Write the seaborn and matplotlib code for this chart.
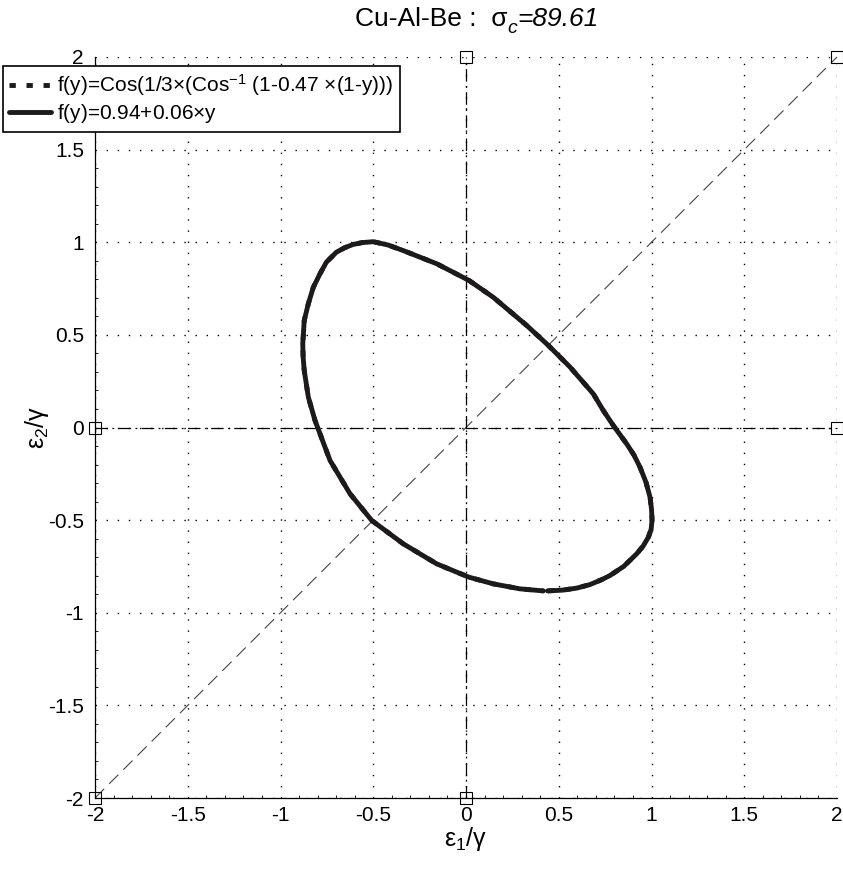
"""
Cu-Al-Be yield locus in strain space (eps1/gamma vs eps2/gamma)
"""

import matplotlib
matplotlib.use("Agg")
import matplotlib.pyplot as plt
from matplotlib.ticker import MultipleLocator
import seaborn as sns
import pandas as pd

# ── data ─────────────────────────────────────────────────────────────────────
# closed curve, starts just right of the small gap near (0.43, -0.88)
curve_x = [0.44, 0.52, 0.597, 0.668, 0.730, 0.776, 0.85, 0.920, 0.955, 0.983,
           0.998, 1.003, 1.000, 0.992, 0.970, 0.938, 0.905, 0.866, 0.794,
           0.740, 0.686, 0.561, 0.444, 0.327, 0.147, 0.016, -0.158, -0.338,
           -0.42, -0.50, -0.56, -0.609, -0.655, -0.699, -0.753, -0.787,
           -0.823, -0.850, -0.872, -0.880, -0.878, -0.872, -0.850, -0.814,
           -0.733, -0.625, -0.508, -0.338, -0.158, 0.016, 0.147, 0.291, 0.417]
curve_y = [-0.882, -0.878, -0.867, -0.848, -0.822, -0.799, -0.75, -0.682,
           -0.64, -0.592, -0.55, -0.50, -0.44, -0.376, -0.295, -0.214, -0.148,
           -0.088, 0.011, 0.092, 0.182, 0.326, 0.443, 0.551, 0.703, 0.794,
           0.884, 0.955, 0.985, 1.003, 0.998, 0.988, 0.970, 0.946, 0.892,
           0.830, 0.757, 0.668, 0.578, 0.452, 0.38, 0.308, 0.164, 0.038,
           -0.178, -0.358, -0.502, -0.628, -0.736, -0.808, -0.844, -0.871,
           -0.882]

label_cos = r"f(y)=Cos(1/3$\times$(Cos$^{-1}$ (1-0.47 $\times$(1-y)))"
label_lin = r"f(y)=0.94+0.06$\times$y"

title_parts = ["Cu-Al-Be :  σ", "c", "=89.61"]
xlabel_txt = r"ε$_{\mathit{1}}$/γ"
ylabel_txt = r"ε$_{\mathit{2}}$/γ"

tick_vals = [-2, -1.5, -1, -0.5, 0, 0.5, 1, 1.5, 2]
tick_labels = ["-2", "-1.5", "-1", "-0.5", "0", "0.5", "1", "1.5", "2"]

diag_x = [-2, 2]
diag_y = [-2, 2]
vert_x = [0, 0]
vert_y = [-2, 2]
horz_x = [-2, 2]
horz_y = [0, 0]

sns.set_theme(style="white")
plt.rcParams.update({
    "font.family": ["Liberation Sans", "DejaVu Sans"],
    "mathtext.fontset": "custom",
    "mathtext.rm": "Liberation Sans",
    "mathtext.it": "Liberation Sans:italic",
    "mathtext.default": "regular",
    "axes.unicode_minus": False,
    "text.color": "black",
    "axes.labelcolor": "black",
    "xtick.color": "black",
    "ytick.color": "black",
})

W, H = 843, 869
df = pd.DataFrame({"x": curve_x, "y": curve_y})

fig = plt.figure(figsize=(W / 100, H / 100), dpi=100)
ax = fig.add_axes([95 / W, 1 - 798 / H, 742 / W, 741 / H])

# grid (dotted, MATLAB style)
for v in tick_vals:
    ax.axvline(v, color="black", lw=1.0, ls=(0, (1, 7)), zorder=0)
    ax.axhline(v, color="black", lw=1.0, ls=(0, (1, 7)), zorder=0)

# reference lines
ax.plot(diag_x, diag_y, color="#444444", lw=0.8, ls=(0, (11.7, 6.3)),
        marker="s", ms=9, mfc="none", mec="black", mew=0.8, clip_on=False)
ax.plot(vert_x, vert_y, color="black", lw=0.9, ls=(0, (10, 3.5, 1.5, 3.5)),
        marker="s", ms=9, mfc="none", mec="black", mew=0.8, clip_on=False)
ax.plot(horz_x, horz_y, color="black", lw=0.9, ls=(0, (10, 3.5, 1.5, 3.5)),
        marker="s", ms=9, mfc="none", mec="black", mew=0.8, clip_on=False)

# the two yield functions (they coincide at this scale)
sns.lineplot(data=df, x="x", y="y", sort=False, estimator=None, ax=ax,
             color="#1c1a1a", lw=3.5, ls=(0, (1.3, 2.2)), label=label_cos)
sns.lineplot(data=df, x="x", y="y", sort=False, estimator=None, ax=ax,
             color="#1c1a1a", lw=3.5, label=label_lin,
             solid_joinstyle="round")

ax.set_xlim(-2, 2)
ax.set_ylim(-2, 2)
ax.set_xticks(tick_vals)
ax.set_xticklabels(tick_labels)
ax.set_yticks(tick_vals)
ax.set_yticklabels(tick_labels)
ax.xaxis.set_minor_locator(MultipleLocator(0.1))
ax.yaxis.set_minor_locator(MultipleLocator(0.1))
ax.tick_params(which="major", direction="in", length=5, width=0.8,
               labelsize=15)
ax.tick_params(axis="x", which="major", pad=6)
ax.tick_params(axis="y", which="major", pad=8)
ax.tick_params(which="minor", direction="in", length=2.5, width=0.6,
               bottom=True, left=True)

for side in ["top", "right"]:
    ax.spines[side].set_visible(False)
for side in ["left", "bottom"]:
    ax.spines[side].set_color("black")
    ax.spines[side].set_linewidth(0.9)

ax.set_xlabel(xlabel_txt, fontsize=18, labelpad=0)
ax.set_ylabel(ylabel_txt, fontsize=18, labelpad=-2)

leg = ax.legend(loc="upper left", bbox_to_anchor=(3 / W, 1 - 66 / H),
                bbox_transform=fig.transFigure, fontsize=15,
                frameon=True, fancybox=False, framealpha=1,
                edgecolor="black", handlelength=2.0, borderpad=0.3,
                labelspacing=0.2, handletextpad=0.3, borderaxespad=0)
leg.get_frame().set_linewidth(1.2)

# title: upright "Cu-Al-Be :  σ", italic subscript c, italic "=89.61"
renderer = fig.canvas.get_renderer()
base_y = 1 - 26 / H
t1 = fig.text(355 / W, base_y, title_parts[0], fontsize=19, va="baseline")
x1 = t1.get_window_extent(renderer).x1
t2 = fig.text(x1 / W, base_y - 7 / H, title_parts[1], fontsize=14,
              style="italic", va="baseline")
x2 = t2.get_window_extent(renderer).x1
fig.text(x2 / W, base_y, title_parts[2], fontsize=19, style="italic",
         va="baseline")

plt.savefig("out.png", dpi=100)
